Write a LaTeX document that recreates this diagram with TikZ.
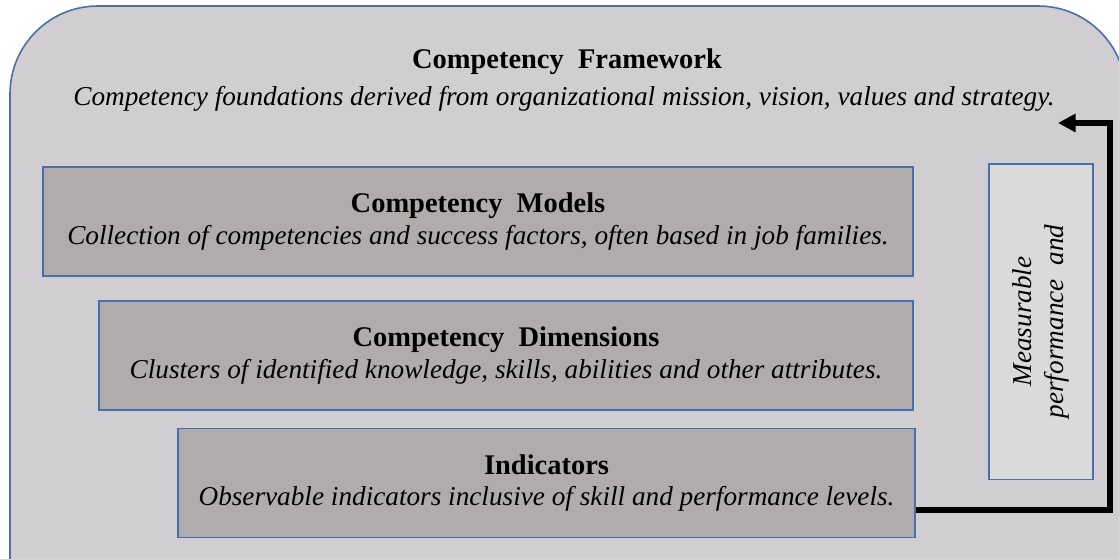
\documentclass[tikz,border=0pt]{standalone}
\usepackage{fontspec}
\setmainfont{Liberation Serif}
\usetikzlibrary{arrows.meta}
\definecolor{frameblue}{RGB}{72,110,172}
\definecolor{framegrey}{RGB}{208,206,208}
\definecolor{boxgrey}{RGB}{176,172,172}
\definecolor{notegrey}{RGB}{218,218,218}
\tikzset{
	txt/.style = {font = \fontsize{15.5}{18}\selectfont, inner sep = 0pt},
	level/.style = {txt, draw = frameblue, line width = 1.1pt, fill = boxgrey, minimum height = 2.18cm, align = center},
	note/.style = {txt, draw = frameblue, line width = 1.1pt, fill = notegrey, rotate = 90, minimum width = 6.32cm, minimum height = 2.08cm, align = center}
}
\newcommand{\lvltitle}[1]{{\bfseries\fontsize{16.2}{19}\selectfont #1}}

\begin{document}
\begin{tikzpicture}[x = 0.02cm, y = -0.02cm]
	\clip (0, 0) rectangle (1119, 558);
	\fill [white] (0, 0) rectangle (1119, 558);
	\draw [frameblue, line width = 0.9pt, fill = framegrey, rounded corners = 1.76cm] (10, 6) rectangle (1126, 700);

	\node [txt] (fw) at (567, 62) {\lvltitle{Competency\ \ Framework}};
	\node [txt, font = \fontsize{15.5}{18}\selectfont\itshape] (fwsub) at (564, 99) {Competency foundations derived from organizational mission, vision, values and strategy.};

	\node [level, minimum width = 17.4cm] (models) at (478, 221.5) {\lvltitle{Competency\ \ Models}\\[0pt]\itshape Collection of competencies and success factors, often based in job families.};
	\node [level, minimum width = 16.28cm] (dims) at (506, 355.5) {\lvltitle{Competency\ \ Dimensions}\\[0pt]\itshape Clusters of identified knowledge, skills, abilities and other attributes.};
	\node [level, minimum width = 14.74cm] (ind) at (546.5, 483) {\lvltitle{Indicators}\\[0pt]\itshape Observable indicators inclusive of skill and performance levels.};
	\node [note] (meas) at (1041, 321.5) {\itshape Measurable\\\itshape performance\ \ and};

	\coordinate (bend) at (1110, 510);
	\coordinate (tip) at (1058, 123);
	\draw [-{Triangle[length = 10pt, width = 10pt]}, line width = 3pt] (ind.east |- bend) -- (bend) |- (tip);
\end{tikzpicture}
\end{document}
